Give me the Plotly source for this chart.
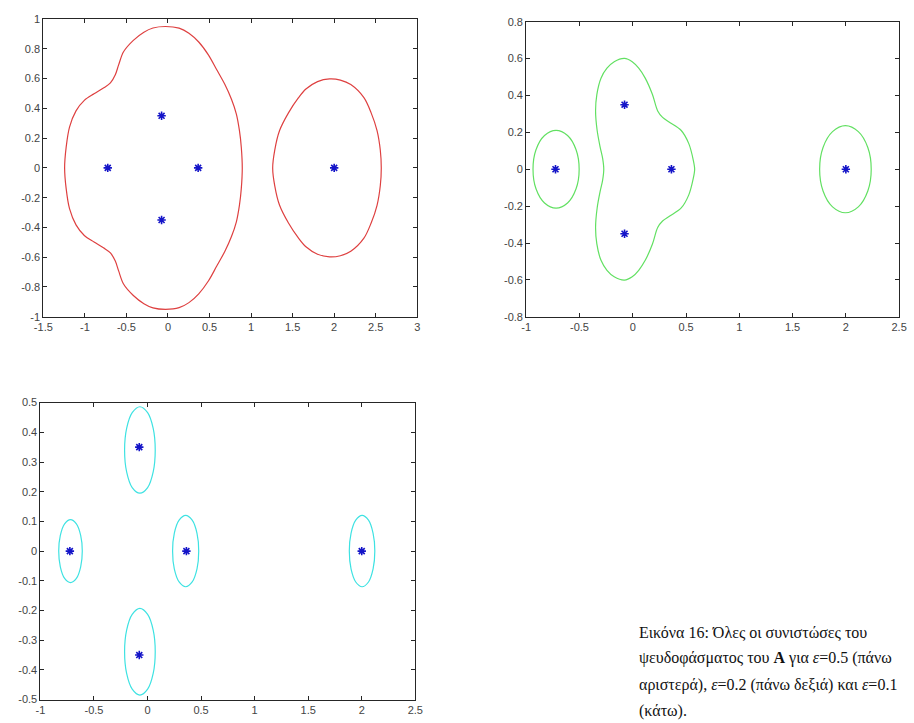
import plotly.graph_objects as go

# ---------------- data ----------------
# eigenvalues (blue asterisks)
eig_re = [-0.725, -0.077, -0.077, 0.363, 2.0]
eig_im = [0.0, 0.35, -0.35, 0.0, 0.0]

# eps = 0.5 (top-left, red)
red1_x = [0.894, 0.882, 0.86, 0.823, 0.764, 0.685, 0.587, 0.488, 0.37, 0.252, 0.134, -0.03, -0.181, -0.29,
          -0.417, -0.535, -0.594, -0.634, -0.693, -0.772, -0.89, -1.007, -1.107, -1.185, -1.225, -1.244,
          -1.225, -1.185, -1.107, -1.007, -0.89, -0.772, -0.693, -0.634, -0.594, -0.535, -0.417, -0.29,
          -0.181, -0.03, 0.134, 0.252, 0.37, 0.488, 0.587, 0.685, 0.764, 0.823, 0.86, 0.882, 0.894]
red1_y = [0.0, 0.141, 0.25, 0.362, 0.461, 0.56, 0.659, 0.758, 0.846, 0.905, 0.939, 0.95, 0.94, 0.912,
          0.857, 0.78, 0.692, 0.626, 0.571, 0.538, 0.498, 0.454, 0.383, 0.274, 0.141, 0.0,
          -0.141, -0.274, -0.383, -0.454, -0.498, -0.538, -0.571, -0.626, -0.692, -0.78, -0.857, -0.912,
          -0.94, -0.95, -0.939, -0.905, -0.846, -0.758, -0.659, -0.56, -0.461, -0.362, -0.25, -0.141, 0.0]
red2_x = [2.567, 2.555, 2.516, 2.445, 2.358, 2.2, 2.075, 1.945, 1.8, 1.66, 1.571, 1.45, 1.343, 1.285, 1.26,
          1.285, 1.343, 1.45, 1.571, 1.66, 1.8, 1.945, 2.075, 2.2, 2.358, 2.445, 2.516, 2.555, 2.567]
red2_y = [0.0, 0.12, 0.251, 0.37, 0.472, 0.56, 0.59, 0.598, 0.58, 0.53, 0.472, 0.37, 0.251, 0.12, 0.0,
          -0.12, -0.251, -0.37, -0.472, -0.53, -0.58, -0.598, -0.59, -0.56, -0.472, -0.37, -0.251, -0.12, 0.0]

# eps = 0.2 (top-right, green)
grn1_x = [0.581, 0.568, 0.526, 0.455, 0.347, 0.28, 0.234, 0.185, 0.117, 0.056, -0.005, -0.078, -0.174,
          -0.242, -0.298, -0.337, -0.349, -0.334, -0.306, -0.283, -0.272,
          -0.283, -0.306, -0.334, -0.349, -0.337, -0.298, -0.242, -0.174, -0.078, -0.005, 0.056, 0.117,
          0.185, 0.234, 0.28, 0.347, 0.455, 0.526, 0.568, 0.581]
grn1_y = [0.0, 0.05, 0.139, 0.21, 0.254, 0.281, 0.316, 0.405, 0.494, 0.548, 0.583, 0.601, 0.583,
          0.548, 0.494, 0.405, 0.316, 0.21, 0.12, 0.06, 0.0,
          -0.06, -0.12, -0.21, -0.316, -0.405, -0.494, -0.548, -0.583, -0.601, -0.583, -0.548, -0.494,
          -0.405, -0.316, -0.281, -0.254, -0.21, -0.139, -0.05, 0.0]
grn2_x = [-0.503, -0.532, -0.612, -0.72, -0.828, -0.908, -0.936, -0.908, -0.828, -0.72, -0.612, -0.532, -0.503]
grn2_y = [0.0, 0.106, 0.183, 0.211, 0.183, 0.106, 0.0, -0.106, -0.183, -0.211, -0.183, -0.106, 0.0]
grn3_x = [2.238, 2.206, 2.117, 1.996, 1.875, 1.786, 1.754, 1.786, 1.875, 1.996, 2.117, 2.206, 2.238]
grn3_y = [0.0, 0.118, 0.204, 0.236, 0.204, 0.118, 0.0, -0.118, -0.204, -0.236, -0.204, -0.118, 0.0]

# eps = 0.1 (bottom, cyan)
cyn_x = {
    "a": [-0.609, -0.624, -0.664, -0.719, -0.774, -0.814, -0.829, -0.814, -0.774, -0.719, -0.664, -0.624, -0.609],
    "b": [0.072, 0.053, 0.001, -0.071, -0.143, -0.195, -0.214, -0.195, -0.143, -0.071, 0.001, 0.053, 0.072],
    "c": [0.072, 0.053, 0.001, -0.071, -0.143, -0.195, -0.214, -0.195, -0.143, -0.071, 0.001, 0.053, 0.072],
    "d": [0.478, 0.462, 0.417, 0.356, 0.295, 0.25, 0.234, 0.25, 0.295, 0.356, 0.417, 0.462, 0.478],
    "e": [2.122, 2.106, 2.063, 2.003, 1.944, 1.9, 1.884, 1.9, 1.944, 2.003, 2.063, 2.106, 2.122],
}
cyn_y = {
    "a": [0.0, 0.053, 0.092, 0.106, 0.092, 0.053, 0.0, -0.053, -0.092, -0.106, -0.092, -0.053, 0.0],
    "b": [0.34, 0.413, 0.466, 0.486, 0.466, 0.413, 0.34, 0.267, 0.214, 0.195, 0.214, 0.267, 0.34],
    "c": [-0.339, -0.266, -0.213, -0.193, -0.213, -0.266, -0.339, -0.412, -0.465, -0.485, -0.465, -0.412, -0.339],
    "d": [0.0, 0.06, 0.104, 0.12, 0.104, 0.06, 0.0, -0.06, -0.104, -0.12, -0.104, -0.06, 0.0],
    "e": [0.0, 0.06, 0.104, 0.12, 0.104, 0.06, 0.0, -0.06, -0.104, -0.12, -0.104, -0.06, 0.0],
}

tl_xticks = [-1.5, -1, -0.5, 0, 0.5, 1, 1.5, 2, 2.5, 3]
tl_xtext = ["-1.5", "-1", "-0.5", "0", "0.5", "1", "1.5", "2", "2.5", "3"]
tl_yticks = [-1, -0.8, -0.6, -0.4, -0.2, 0, 0.2, 0.4, 0.6, 0.8, 1]
tl_ytext = ["-1", "-0.8", "-0.6", "-0.4", "-0.2", "0", "0.2", "0.4", "0.6", "0.8", "1"]
r_xticks = [-1, -0.5, 0, 0.5, 1, 1.5, 2, 2.5]
r_xtext = ["-1", "-0.5", "0", "0.5", "1", "1.5", "2", "2.5"]
tr_yticks = [-0.8, -0.6, -0.4, -0.2, 0, 0.2, 0.4, 0.6, 0.8]
tr_ytext = ["-0.8", "-0.6", "-0.4", "-0.2", "0", "0.2", "0.4", "0.6", "0.8"]
b_yticks = [-0.5, -0.4, -0.3, -0.2, -0.1, 0, 0.1, 0.2, 0.3, 0.4, 0.5]
b_ytext = ["-0.5", "-0.4", "-0.3", "-0.2", "-0.1", "0", "0.1", "0.2", "0.3", "0.4", "0.5"]

caption_lines = [
    "Εικόνα 16: Όλες οι συνιστώσες του",
    "ψευδοφάσματος του <b>A</b> για <i>ε</i>=0.5 (πάνω",
    "αριστερά), <i>ε</i>=0.2 (πάνω δεξιά) και <i>ε</i>=0.1",
    "(κάτω).",
]

# ---------------- figure ----------------
W, H = 914, 723
RED, GREEN, CYAN, BLUE = "#de4040", "#62e062", "#3ee2e2", "#1414c8"

fig = go.Figure()


def curve(x, y, color, xa, ya):
    fig.add_trace(go.Scatter(x=x, y=y, mode="lines",
                             line=dict(color=color, width=1.2, shape="spline", smoothing=0.9),
                             xaxis=xa, yaxis=ya, hoverinfo="skip", showlegend=False))


def stars(xa, ya):
    fig.add_trace(go.Scatter(x=eig_re, y=eig_im, mode="markers",
                             marker=dict(symbol="asterisk-open", size=7, color=BLUE,
                                         line=dict(color=BLUE, width=1.6)),
                             xaxis=xa, yaxis=ya, hoverinfo="skip", showlegend=False))


curve(red1_x, red1_y, RED, "x", "y")
curve(red2_x, red2_y, RED, "x", "y")
stars("x", "y")
curve(grn1_x, grn1_y, GREEN, "x2", "y2")
curve(grn2_x, grn2_y, GREEN, "x2", "y2")
curve(grn3_x, grn3_y, GREEN, "x2", "y2")
stars("x2", "y2")
for k in cyn_x:
    curve(cyn_x[k], cyn_y[k], CYAN, "x3", "y3")
stars("x3", "y3")


def px_x(a, b):
    return [a / W, b / W]


def px_y(top, bottom):
    return [1 - bottom / H, 1 - top / H]


common = dict(showline=True, linecolor="#262626", linewidth=1, mirror="ticks", ticks="inside",
              ticklen=4, tickcolor="#262626", tickwidth=1, showgrid=False, zeroline=False,
              tickfont=dict(family="Liberation Sans, Arial, sans-serif", size=11, color="#444444"),
              fixedrange=True)

fig.update_layout(
    width=W, height=H, margin=dict(l=0, r=0, t=0, b=0),
    paper_bgcolor="white", plot_bgcolor="white", showlegend=False,
    xaxis=dict(domain=px_x(35, 416), range=[-1.5, 3], anchor="y", tickvals=tl_xticks, ticktext=tl_xtext, **common),
    yaxis=dict(domain=px_y(13.3, 316), range=[-1, 1], anchor="x", tickvals=tl_yticks, ticktext=tl_ytext, **common),
    xaxis2=dict(domain=px_x(527, 907), range=[-1, 2.5], anchor="y2", tickvals=r_xticks, ticktext=r_xtext, **common),
    yaxis2=dict(domain=px_y(16, 316), range=[-0.8, 0.8], anchor="x2", tickvals=tr_yticks, ticktext=tr_ytext, **common),
    xaxis3=dict(domain=px_x(32, 414), range=[-1, 2.5], anchor="y3", tickvals=r_xticks, ticktext=r_xtext, **common),
    yaxis3=dict(domain=px_y(403.3, 705.3), range=[-0.5, 0.5], anchor="x3", tickvals=b_yticks, ticktext=b_ytext, **common),
)

line_centers = [636.7, 663.3, 690.0, 716.5]
for txt, yc in zip(caption_lines, line_centers):
    fig.add_annotation(text=txt, xref="paper", yref="paper", x=640 / W, y=1 - yc / H,
                       xanchor="left", yanchor="middle", showarrow=False,
                       font=dict(family="Liberation Serif, Times New Roman, serif", size=16, color="#111111"))

fig.write_html("out.html")
